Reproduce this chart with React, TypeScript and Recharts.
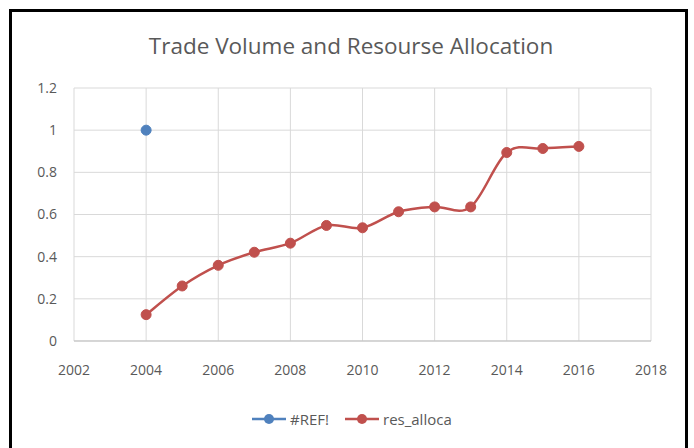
import React from 'react';
import { LineChart, Line, XAxis, YAxis, CartesianGrid } from 'recharts';

const years = [2004, 2005, 2006, 2007, 2008, 2009, 2010, 2011, 2012, 2013, 2014, 2015, 2016];
const resAlloca = [0.125, 0.261, 0.359, 0.421, 0.464, 0.548, 0.537, 0.613, 0.636, 0.636, 0.894, 0.913, 0.923];
const refYear = 2004;
const refValue = 1;
const xTicks = [2002, 2004, 2006, 2008, 2010, 2012, 2014, 2016, 2018];
const yTicks = [0, 0.2, 0.4, 0.6, 0.8, 1, 1.2];

const BLUE = '#4F81BD';
const RED = '#C0504D';
const TEXT = '#595959';
const FONT = '"Open Sans", sans-serif';

const data = years.map((year, i) => ({
  year,
  res: resAlloca[i],
  ref: year === refYear ? refValue : null,
}));

const series = [
  { key: 'ref', name: '#REF!', color: BLUE },
  { key: 'res', name: 'res_alloca', color: RED },
];

// Excel-style smoothed line (cardinal bezier through every point)
const smoothCurve = (context: any) => {
  let pts: [number, number][] = [];
  return {
    areaStart() {},
    areaEnd() {},
    lineStart() {
      pts = [];
    },
    lineEnd() {
      if (!pts.length) return;
      context.moveTo(pts[0][0], pts[0][1]);
      const t = 1 / 6;
      for (let i = 0; i < pts.length - 1; i++) {
        const p0 = pts[i - 1] || pts[i];
        const p1 = pts[i];
        const p2 = pts[i + 1];
        const p3 = pts[i + 2] || p2;
        context.bezierCurveTo(
          p1[0] + (p2[0] - p0[0]) * t,
          p1[1] + (p2[1] - p0[1]) * t,
          p2[0] - (p3[0] - p1[0]) * t,
          p2[1] - (p3[1] - p1[1]) * t,
          p2[0],
          p2[1]
        );
      }
    },
    point(x: number, y: number) {
      pts.push([x, y]);
    },
  };
};

const LegendIcon = ({ color }: { color: string }) => (
  <svg width={34} height={12} style={{ display: 'block' }}>
    <line x1={0} y1={6} x2={34} y2={6} stroke={color} strokeWidth={2.5} />
    <circle cx={17} cy={6} r={5} fill={color} />
  </svg>
);

export default function App() {
  return (
    <div
      style={{
        position: 'absolute',
        left: 0,
        top: 0,
        width: 694,
        height: 448,
        background: '#fff',
        overflow: 'hidden',
        fontFamily: FONT,
      }}
    >
      <div
        style={{
          position: 'absolute',
          left: 9,
          top: 9,
          width: 673,
          height: 460,
          border: '3px solid #000',
        }}
      />
      <div
        style={{
          position: 'absolute',
          left: 0,
          top: 29,
          width: 702,
          textAlign: 'center',
          fontSize: 22.5,
          color: TEXT,
          lineHeight: '34px',
        }}
      >
        Trade Volume and Resourse Allocation
      </div>
      <div style={{ position: 'absolute', left: 0, top: 0 }}>
        <LineChart
          width={694}
          height={448}
          data={data}
          margin={{ top: 88, right: 43, bottom: 77, left: 0 }}
        >
          <CartesianGrid stroke="#d9d9d9" strokeWidth={1} />
          <XAxis
            dataKey="year"
            type="number"
            domain={[2002, 2018]}
            ticks={xTicks}
            interval={0}
            height={30}
            tickLine={false}
            axisLine={{ stroke: '#bfbfbf' }}
            tickMargin={18}
            tick={{ fill: TEXT, fontSize: 14, fontFamily: FONT }}
          />
          <YAxis
            type="number"
            domain={[0, 1.2]}
            ticks={yTicks}
            interval={0}
            width={74}
            tickLine={false}
            axisLine={false}
            tickMargin={11}
            tick={{ fill: TEXT, fontSize: 14, fontFamily: FONT }}
          />
          {series.map((s) => (
            <Line
              key={s.key}
              dataKey={s.key}
              name={s.name}
              type={smoothCurve as any}
              stroke={s.color}
              strokeWidth={2.5}
              dot={{ r: 5, fill: s.color, stroke: s.color, strokeWidth: 1 }}
              activeDot={false}
              connectNulls={false}
              isAnimationActive={false}
            />
          ))}
        </LineChart>
      </div>
      <div
        style={{
          position: 'absolute',
          left: 252,
          top: 409,
          display: 'flex',
          alignItems: 'center',
          fontSize: 15,
          color: TEXT,
        }}
      >
        {series.map((s) => (
          <div key={s.key} style={{ display: 'flex', alignItems: 'center', marginRight: 16 }}>
            <LegendIcon color={s.color} />
            <span style={{ marginLeft: 4 }}>{s.name}</span>
          </div>
        ))}
      </div>
    </div>
  );
}
